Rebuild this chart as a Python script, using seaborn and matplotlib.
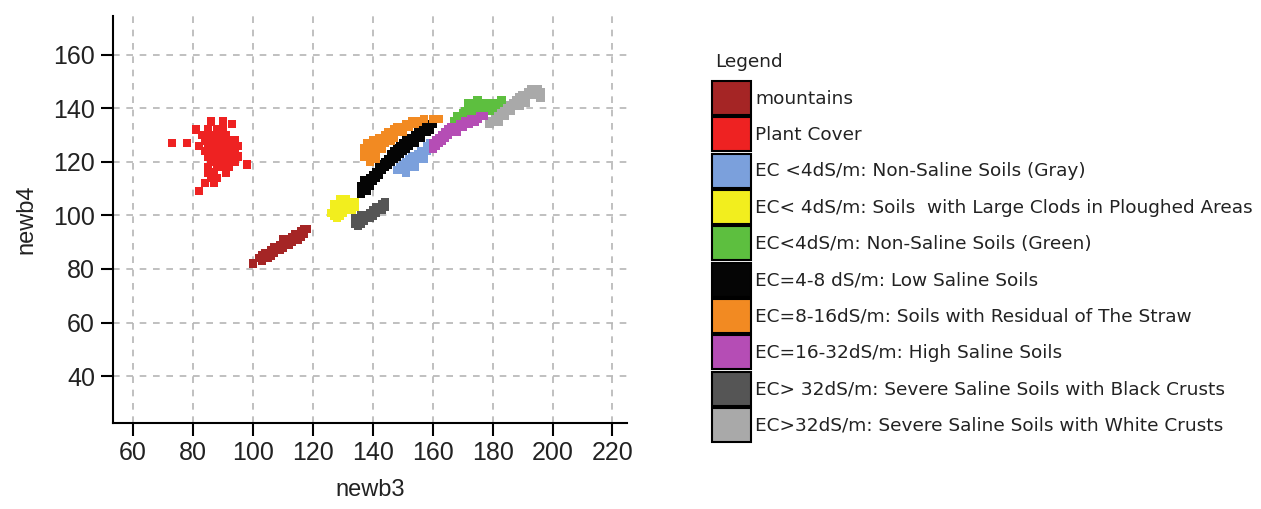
import matplotlib
matplotlib.use("Agg")
import matplotlib.pyplot as plt
import seaborn as sns
import pandas as pd
from matplotlib.patches import Patch

classes = [
    "mountains",
    "Plant Cover",
    "EC <4dS/m: Non-Saline Soils (Gray)",
    "EC< 4dS/m: Soils  with Large Clods in Ploughed Areas",
    "EC<4dS/m: Non-Saline Soils (Green)",
    "EC=4-8 dS/m: Low Saline Soils",
    "EC=8-16dS/m: Soils with Residual of The Straw",
    "EC=16-32dS/m: High Saline Soils",
    "EC> 32dS/m: Severe Saline Soils with Black Crusts",
    "EC>32dS/m: Severe Saline Soils with White Crusts",
]
colors = ["#a52525", "#ee2222", "#7ba0dc", "#f2ee1e", "#5dbf3f",
          "#050505", "#f28a22", "#b54db5", "#555555", "#a9a9a9"]

# (newb3, newb4) samples
mountains = [(100, 82), (102, 84), (103, 85), (104, 84), (104, 86), (105, 86), (106, 87),
             (106, 85), (107, 88), (107, 86), (108, 88), (108, 87), (109, 89), (109, 87),
             (110, 90), (110, 88), (111, 90), (111, 89), (112, 91), (112, 89), (113, 92),
             (113, 90), (114, 92), (114, 91), (115, 93), (115, 91), (116, 94), (116, 92),
             (117, 95), (117, 93), (118, 95), (105, 84), (103, 83), (110, 91), (114, 93)]
plant_cover = [(86, 135), (90, 135), (93, 134), (81, 132), (85, 132), (88, 132), (90, 132),
               (83, 130), (85, 130), (87, 130), (89, 130), (91, 130), (84, 128), (86, 128),
               (88, 128), (90, 128), (92, 128), (94, 128), (73, 127), (78, 127), (82, 126),
               (85, 126), (87, 126), (89, 126), (91, 126), (93, 126), (95, 126), (84, 124),
               (86, 124), (88, 124), (90, 124), (92, 124), (94, 124), (85, 122), (87, 122),
               (89, 122), (91, 122), (93, 122), (95, 122), (86, 120), (88, 120), (90, 120),
               (92, 120), (94, 120), (98, 119), (85, 118), (88, 118), (90, 118), (92, 118),
               (85, 116), (87, 116), (91, 116), (86, 114), (88, 114), (84, 112), (87, 112),
               (82, 109)]
gray_soils = [(148, 117), (149, 118), (150, 117), (150, 119), (151, 120), (152, 119),
              (152, 121), (153, 118), (153, 122), (154, 120), (155, 121), (155, 123),
              (156, 122), (156, 124), (157, 123), (158, 124), (158, 126), (159, 125),
              (159, 127), (160, 126), (151, 116), (154, 118), (157, 121)]
clods = [(126, 101), (127, 100), (127, 102), (128, 101), (128, 103), (128, 99), (129, 102),
         (129, 104), (129, 100), (130, 103), (130, 105), (130, 101), (131, 102), (131, 104),
         (131, 106), (132, 103), (132, 105), (133, 104), (133, 102), (134, 105), (129, 106),
         (127, 104), (134, 103)]
green_soils = [(167, 135), (168, 137), (169, 136), (170, 138), (170, 136), (171, 139),
               (172, 137), (172, 140), (173, 139), (174, 141), (174, 138), (175, 140),
               (176, 142), (176, 139), (177, 141), (178, 142), (178, 140), (179, 141),
               (180, 142), (181, 141), (182, 142), (183, 143), (175, 143), (172, 142),
               (168, 134), (180, 139)]
low_saline = [(136, 108), (136, 111), (137, 110), (137, 113), (138, 112), (138, 109),
              (139, 114), (139, 111), (140, 115), (140, 113), (141, 116), (141, 114),
              (142, 118), (142, 115), (143, 119), (143, 117), (144, 120), (144, 118),
              (145, 121), (145, 119), (146, 123), (146, 120), (147, 124), (147, 121),
              (148, 125), (148, 122), (149, 126), (149, 123), (150, 127), (150, 124),
              (151, 128), (151, 125), (152, 129), (152, 126), (153, 129), (154, 130),
              (154, 127), (155, 131), (156, 132), (156, 129), (157, 133), (158, 134),
              (158, 131), (159, 132), (160, 134)]
straw = [(137, 125), (137, 122), (138, 127), (138, 124), (139, 126), (139, 123), (140, 128),
         (140, 125), (141, 127), (141, 124), (142, 129), (142, 126), (143, 128), (143, 125),
         (144, 130), (144, 127), (145, 129), (145, 131), (146, 130), (146, 128), (147, 132),
         (147, 129), (148, 131), (148, 133), (149, 132), (150, 133), (150, 131), (151, 134),
         (152, 133), (153, 135), (154, 134), (155, 135), (157, 136), (160, 136), (162, 136),
         (141, 121), (139, 120)]
high_saline = [(160, 125), (160, 127), (161, 126), (161, 128), (162, 127), (162, 129),
               (163, 128), (163, 130), (164, 129), (164, 131), (165, 130), (165, 132),
               (166, 131), (166, 133), (167, 132), (168, 133), (168, 131), (169, 134),
               (170, 133), (171, 135), (172, 134), (173, 136), (174, 135), (175, 136),
               (176, 137), (177, 137)]
black_crusts = [(134, 97), (135, 98), (135, 96), (136, 99), (136, 97), (137, 100), (137, 98),
                (138, 100), (138, 99), (139, 101), (139, 99), (140, 102), (140, 100),
                (141, 103), (141, 101), (142, 103), (142, 102), (143, 104), (143, 102),
                (144, 105), (144, 103), (136, 100), (134, 99)]
white_crusts = [(179, 134), (180, 135), (181, 136), (182, 135), (182, 137), (183, 138),
                (184, 137), (184, 139), (185, 140), (186, 139), (186, 141), (187, 142),
                (188, 141), (188, 143), (189, 144), (190, 143), (190, 145), (191, 144),
                (192, 146), (193, 145), (193, 147), (194, 146), (195, 147), (196, 146),
                (196, 144), (195, 145), (191, 142), (189, 141)]

groups = [mountains, plant_cover, gray_soils, clods, green_soils,
          low_saline, straw, high_saline, black_crusts, white_crusts]

rows = []
for name, pts in zip(classes, groups):
    for x, y in pts:
        rows.append({"newb3": x, "newb4": y, "cls": name})
df = pd.DataFrame(rows)

sns.set_style("white")
plt.rcParams["font.family"] = ["Liberation Sans", "DejaVu Sans"]

fig = plt.figure(figsize=(12.61, 5.09), dpi=100)
ax = fig.add_axes([0.0896, 0.169, 0.408, 0.80])

sns.scatterplot(data=df, x="newb3", y="newb4", hue="cls", hue_order=classes,
                palette=colors, marker="s", s=36, linewidth=0, legend=False,
                ax=ax, zorder=3)

ax.set_xlim(53.3, 225)
ax.set_ylim(22.5, 174.5)
ax.set_xticks(range(60, 221, 20))
ax.set_yticks(range(40, 161, 20))
ax.grid(True, color="#b5b5b5", linestyle=(0, (4, 4)), linewidth=1.2)
ax.set_axisbelow(True)
for s in ["top", "right"]:
    ax.spines[s].set_visible(False)
for s in ["left", "bottom"]:
    ax.spines[s].set_color("black")
    ax.spines[s].set_linewidth(1.5)
ax.tick_params(direction="out", length=9, width=1.5, color="black", pad=4,
               labelsize=18, labelcolor="#222222", left=True, bottom=True)
ax.set_xlabel("newb3", fontsize=17, labelpad=10, color="#222222")
ax.set_ylabel("newb4", fontsize=17, labelpad=11, color="#222222")

# legend title drawn on its own so the gap below it matches
fig.text(715 / 1261, 1 - 62 / 509, "Legend", va="center", ha="left",
         family="DejaVu Sans", fontsize=13.3, color="#222222")
handles = [Patch(facecolor=c, edgecolor="black", linewidth=1.5) for c in colors]
leg = fig.legend(handles, classes, loc="upper left",
                 bbox_to_anchor=(712 / 1261, 1 - 81 / 509), frameon=False,
                 prop={"family": "DejaVu Sans", "size": 13.3},
                 handlelength=2.1, handleheight=2.45, labelspacing=0.13,
                 handletextpad=0.25, borderpad=0, borderaxespad=0)
for t in leg.get_texts():
    t.set_color("#222222")

fig.savefig("out.png", dpi=100)
